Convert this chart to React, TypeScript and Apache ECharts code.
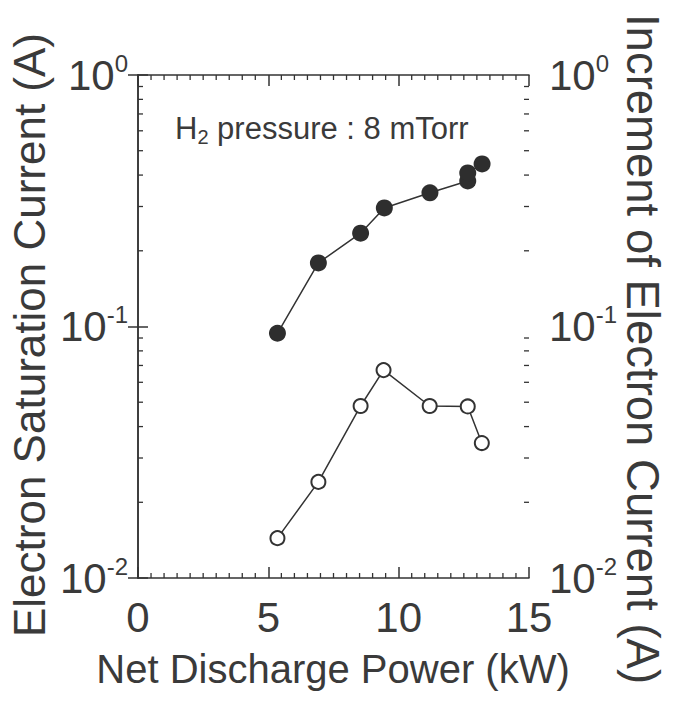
import React, { useEffect, useRef } from "react";
import * as echarts from "echarts";

const powerFilled = [5.35, 6.92, 8.54, 9.45, 11.2, 12.65, 12.65, 13.2];
const satCurrent = [0.094, 0.179, 0.235, 0.296, 0.34, 0.379, 0.408, 0.443];
const powerOpen = [5.35, 6.92, 8.54, 9.42, 11.19, 12.65, 13.19];
const incCurrent = [0.0144, 0.0241, 0.0483, 0.0671, 0.0483, 0.0481, 0.0344];
const logMinorTicks = [0.02, 0.03, 0.04, 0.05, 0.06, 0.07, 0.08, 0.09, 0.2, 0.3, 0.4, 0.5, 0.6, 0.7, 0.8, 0.9];
const powerMinorTicks = [
  0.5, 1, 1.5, 2, 2.5, 3, 3.5, 4, 4.5, 5.5, 6, 6.5, 7, 7.5, 8, 8.5, 9, 9.5,
  10.5, 11, 11.5, 12, 12.5, 13, 13.5, 14, 14.5,
];

const FONT = "Liberation Sans, Arial, sans-serif";
const INK = "#333333";
const TEXT = "#3a3a3a";

const GRID = { left: 138, right: 144, top: 75, bottom: 124 };

function logLabel(v: number) {
  const e = Math.round(Math.log10(v));
  return "{b|10}{s|" + (e === 0 ? "0" : String(e)) + "}";
}

const richLabel = {
  b: { fontSize: 42, fontFamily: FONT, color: TEXT },
  s: { fontSize: 24, fontFamily: FONT, color: TEXT, padding: [0, 0, 24, 0] },
};

export default function App() {
  const ref = useRef<HTMLDivElement>(null);
  useEffect(() => {
    if (!ref.current) return;
    const chart = echarts.init(ref.current, undefined, { renderer: "svg" });
    const xAxisBase = {
      type: "value" as const,
      min: 0,
      max: 15,
      interval: 5,
      axisLine: { show: true, lineStyle: { color: INK, width: 1.5 } },
      axisTick: { show: true, inside: true, length: 11, lineStyle: { color: INK, width: 1.5 } },
      minorTick: { show: false },
      splitLine: { show: false },
    };
    const yAxisBase = {
      type: "log" as const,
      logBase: 10,
      min: 0.01,
      max: 1,
      axisLine: { show: true, lineStyle: { color: INK, width: 1.5 } },
      axisTick: { show: true, inside: true, length: 10, lineStyle: { color: INK, width: 1.5 } },
      minorTick: { show: false },
      splitLine: { show: false },
    };
    const tickStyle = { stroke: INK, lineWidth: 1.3 };
    chart.setOption({
      animation: false,
      backgroundColor: "#ffffff",
      grid: GRID,
      xAxis: [
        {
          ...xAxisBase,
          position: "bottom",
          axisLabel: { show: true, margin: 18, fontSize: 42, fontFamily: FONT, color: TEXT },
        },
        { ...xAxisBase, position: "top", axisLabel: { show: false } },
      ],
      yAxis: [
        {
          ...yAxisBase,
          position: "left",
          axisLabel: { show: true, margin: 10, formatter: logLabel, rich: richLabel },
        },
        {
          ...yAxisBase,
          position: "right",
          axisLabel: { show: true, margin: 20, formatter: logLabel, rich: richLabel },
        },
      ],
      graphic: [
        {
          type: "text",
          x: 29,
          y: 335,
          rotation: Math.PI / 2,
          style: {
            text: "Electron Saturation Current (A)",
            fontSize: 44,
            fontFamily: FONT,
            fill: TEXT,
            align: "center",
            verticalAlign: "middle",
          },
        },
        {
          type: "text",
          x: 642,
          y: 349,
          rotation: -Math.PI / 2,
          style: {
            text: "Increment of Electron Current (A)",
            fontSize: 45.5,
            fontFamily: FONT,
            fill: TEXT,
            align: "center",
            verticalAlign: "middle",
          },
        },
        {
          type: "text",
          x: 333,
          y: 669,
          style: {
            text: "Net Discharge Power (kW)",
            fontSize: 40,
            fontFamily: FONT,
            fill: TEXT,
            align: "center",
            verticalAlign: "middle",
          },
        },
        {
          type: "text",
          x: 175,
          y: 128,
          style: {
            text: "{a|H}{sub|2}{a| pressure : 8 mTorr}",
            fontFamily: FONT,
            fill: TEXT,
            align: "left",
            verticalAlign: "middle",
            rich: {
              a: { fontSize: 31, fontFamily: FONT, fill: TEXT },
              sub: { fontSize: 20, fontFamily: FONT, fill: TEXT, padding: [18, 0, 0, 0] },
            },
          },
        },
      ],
      series: [
        {
          type: "custom",
          xAxisIndex: 0,
          yAxisIndex: 0,
          silent: true,
          clip: false,
          data: logMinorTicks.map((v) => [0, v]),
          renderItem: (params: any, api: any) => {
            const cs = params.coordSys;
            const y = api.coord([0, api.value(1)])[1];
            return {
              type: "group",
              children: [
                { type: "line", shape: { x1: cs.x, y1: y, x2: cs.x + 5, y2: y }, style: tickStyle },
                { type: "line", shape: { x1: cs.x + cs.width - 5, y1: y, x2: cs.x + cs.width, y2: y }, style: tickStyle },
              ],
            };
          },
        },
        {
          type: "custom",
          xAxisIndex: 0,
          yAxisIndex: 0,
          silent: true,
          clip: false,
          data: powerMinorTicks.map((v) => [v, 0.1]),
          renderItem: (params: any, api: any) => {
            const cs = params.coordSys;
            const x = api.coord([api.value(0), 0.1])[0];
            const yb = cs.y + cs.height;
            return {
              type: "group",
              children: [
                { type: "line", shape: { x1: x, y1: yb, x2: x, y2: yb - 5 }, style: tickStyle },
                { type: "line", shape: { x1: x, y1: cs.y, x2: x, y2: cs.y + 5 }, style: tickStyle },
              ],
            };
          },
        },
        {
          type: "line",
          name: "Electron Saturation Current",
          data: powerFilled.map((x, i) => [x, satCurrent[i]]),
          symbol: "circle",
          symbolSize: 17,
          itemStyle: { color: "#2e2e2e" },
          lineStyle: { color: INK, width: 1.5 },
          z: 3,
        },
        {
          type: "line",
          name: "Increment of Electron Current",
          data: powerOpen.map((x, i) => [x, incCurrent[i]]),
          symbol: "circle",
          symbolSize: 14,
          showAllSymbol: true,
          itemStyle: { color: "#ffffff", borderColor: INK, borderWidth: 2 },
          lineStyle: { color: INK, width: 1.5 },
          z: 3,
        },
      ],
    });
    return () => chart.dispose();
  }, []);
  return (
    <div
      ref={ref}
      style={{ position: "fixed", left: 0, top: 0, width: 673, height: 702, background: "#fff" }}
    />
  );
}
